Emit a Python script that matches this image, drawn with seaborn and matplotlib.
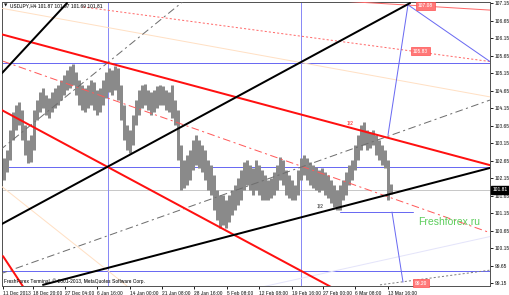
import matplotlib
matplotlib.use('Agg')
import matplotlib.pyplot as plt
import matplotlib.transforms as mtrans
from matplotlib import font_manager
import pandas as pd
import numpy as np
import seaborn as sns

# ---------------- data ----------------
symbol_header = "USDJPY,H4"
last_ohlc = [101.87, 101.97, 101.69, 101.81]
bid = 101.81

# price bars (one entry every 3 H4 bars): highs and lows
bar_high = [102.72, 102.95, 103.52, 104.04, 104.24, 104.32, 104.10, 103.67, 103.24, 103.38,
            104.10, 104.38, 104.61, 104.72, 104.52, 104.44, 104.61, 104.72, 104.81, 104.95,
            105.10, 105.24, 105.35, 105.41, 105.18, 104.95, 104.81, 104.72, 104.81, 104.95,
            104.90, 104.67, 104.72, 104.95, 105.18, 105.30, 105.24, 105.35, 105.30, 104.81,
            104.24, 103.67, 103.52, 103.95, 104.38, 104.67, 104.81, 104.84, 104.67, 104.61,
            104.67, 104.78, 104.81, 104.78, 104.67, 104.61, 104.81, 104.38, 104.10, 103.10,
            102.67, 102.81, 102.95, 103.24, 103.38, 103.24, 103.10, 102.95, 102.67, 102.52,
            102.24, 101.81, 101.67, 101.67, 101.52, 101.67, 101.81, 101.95, 102.15, 102.38,
            102.61, 102.67, 102.52, 102.44, 102.67, 102.52, 102.38, 102.24, 102.10, 102.15,
            102.33, 102.52, 102.75, 102.67, 102.38, 102.24, 102.10, 101.95, 102.38, 102.72,
            102.81, 102.72, 102.61, 102.52, 102.47, 102.38, 102.44, 102.33, 102.24, 102.10,
            101.95, 101.81, 101.95, 102.10, 102.33, 102.52, 102.67, 103.10, 103.38, 103.67,
            103.75, 103.52, 103.47, 103.52, 103.38, 103.24, 103.10, 102.95, 102.67, 101.97]
bar_low = [102.10, 102.33, 102.67, 103.24, 103.52, 103.67, 103.24, 102.81, 102.58, 102.61,
           102.95, 103.81, 104.04, 104.15, 103.95, 103.87, 104.04, 104.15, 104.24, 104.38,
           104.52, 104.67, 104.72, 104.81, 104.52, 104.24, 104.10, 104.04, 104.15, 104.24,
           104.10, 103.95, 104.04, 104.24, 104.44, 104.61, 104.52, 104.67, 104.38, 103.81,
           103.24, 102.95, 102.87, 103.10, 103.67, 103.95, 104.15, 104.24, 104.10, 103.95,
           104.04, 104.15, 104.24, 104.24, 104.10, 104.04, 103.87, 103.67, 102.67, 101.81,
           101.87, 101.95, 102.10, 102.38, 102.52, 102.44, 102.33, 102.10, 101.81, 101.67,
           101.24, 100.95, 100.73, 100.81, 100.73, 100.90, 101.10, 101.24, 101.38, 101.52,
           101.81, 101.95, 101.81, 101.67, 101.81, 101.67, 101.52, 101.52, 101.52, 101.58,
           101.67, 101.81, 102.10, 101.95, 101.67, 101.58, 101.52, 101.52, 101.67, 102.10,
           102.24, 102.10, 101.95, 101.87, 101.81, 101.75, 101.81, 101.67, 101.58, 101.44,
           101.33, 101.24, 101.24, 101.52, 101.67, 101.95, 102.10, 102.38, 102.67, 102.95,
           103.10, 102.95, 103.01, 103.10, 102.81, 102.67, 102.52, 102.44, 101.52, 101.69]
bars_per_entry = 3
first_bar = 1

time_tick_bar = [0, 30, 62, 94, 127, 159, 191, 224, 256, 289, 320, 352, 385]
time_tick_label = ['11 Dec 2013', '18 Dec 20:00', '27 Dec 04:00', '6 Jan 16:00', '14 Jan 00:00',
                   '21 Jan 08:00', '28 Jan 16:00', '5 Feb 08:00', '12 Feb 08:00', '19 Feb 16:00',
                   '27 Feb 00:00', '6 Mar 08:00', '13 Mar 16:00']
price_tick = [107.15, 106.65, 106.15, 105.65, 105.15, 104.65, 104.15, 103.65, 103.15,
              102.65, 102.15, 101.65, 101.15, 100.65, 100.15, 99.65, 99.15]

# drawn objects: anchor points (bar index, price)
black_channel_upper = [(-3, 100.81), (407, 107.15)]
black_steep = [(-1, 105.15), (64, 107.15)]
black_channel_lower = [(40, 99.10), (487, 102.44)]
red_upper = [(-3, 106.27), (487, 102.52)]
red_lower = [(-3, 104.12), (328, 99.04)]
red_short = [(0, 99.92), (21, 99.01)]
red_top = [(337, 107.21), (487, 106.95)]
red_dotted = [(80, 107.04), (487, 105.48)]
red_dashdot = [(0, 105.49), (487, 100.59)]
gray_dashdot_low = [(-3, 99.41), (487, 104.38)]
gray_dashdot_steep = [(-3, 102.95), (182, 107.24)]
peach_1 = [(-3, 107.01), (487, 104.47)]
peach_2 = [(-3, 101.95), (124, 99.07)]
lavender = [(232, 98.87), (487, 100.48)]
gray_dotted = [(377, 99.10), (487, 99.52)]
blue_fan_a = [(405, 107.10), (487, 105.48)]
blue_fan_b = [(405, 107.10), (385, 103.38)]
blue_step_h = [(337, 101.18), (410, 101.18)]
blue_step_d = [(389, 101.18), (400, 99.18)]
blue_hlines = [105.44, 102.47, 99.49]
blue_vlines = [105, 298]
target_text = ['107.08', '105.83', '99.20']
target_at = [(415, 107.07), (410, 105.78), (412, 99.15)]
half_text = ['1/2', '1/2']
half_at = [(314, 101.35), (344, 103.72)]
watermark = 'Freshforex.ru'
watermark_at = (415, 100.90)
footer = 'FreshForex Terminal, \u00a9 2001-2013, MetaQuotes Software Corp.'

# ---------------- style ----------------
sns.set_theme(style='white')
ttfs = font_manager.fontManager.ttflist
narrow = [f.fname for f in ttfs if 'Narrow' in f.name and f.style == 'normal' and f.weight in (400, 'normal')]
if narrow:
    small_fp = font_manager.FontProperties(fname=narrow[0], size=4.3)
else:
    lib = [f.fname for f in ttfs if f.name == 'Liberation Sans' and f.style == 'normal'
           and f.weight in (400, 'normal')]
    small_fp = (font_manager.FontProperties(fname=lib[0], size=3.7) if lib
                else font_manager.FontProperties(family='DejaVu Sans', size=3.4))
plt.rcParams['font.family'] = ['Liberation Sans', 'DejaVu Sans']
plt.rcParams['lines.scale_dashes'] = False

W, H = 510, 295
fig = plt.figure(figsize=(W / 100, H / 100), dpi=100)
fig.patch.set_facecolor('white')
ax = fig.add_axes([2 / W, 1 - 286 / H, 488 / W, 284 / H])
ax.set_facecolor('white')
ax.set_xlim(-1, 487)
ax.set_ylim(99.067, 107.181)

PX = 0.72  # one pixel in points


def seg(points, color, lw=1.0, ls='-', z=3):
    df = pd.DataFrame(points, columns=['bar', 'price'])
    sns.lineplot(data=df, x='bar', y='price', ax=ax, color=color, linewidth=lw * PX,
                 linestyle=ls, sort=False, zorder=z, estimator=None)


DOT = (0, (1.5, 1.5))
DASHDOT = (0, (5.5, 2.5, 1.5, 2.5))

# faint lines
seg(peach_1, '#ffe0c4', 1)
seg(peach_2, '#ffe0c4', 1)
seg(lavender, '#e4e4fa', 1)

# blue grid
for v in blue_hlines:
    ax.axhline(v, color='#6a6af2', lw=PX, zorder=2)
for v in blue_vlines:
    ax.axvline(v, color='#8a8af6', lw=PX, zorder=2)
ax.axhline(bid, color='#c8c8c8', lw=PX, zorder=1.5)

# price bars
bx = first_bar + bars_per_entry * np.arange(len(bar_high))
ax.vlines(bx, bar_low, bar_high, color='#8a8a8a', lw=3.0 * PX, zorder=2.5)

# dotted / dash-dot
seg(red_dotted, '#ff6a6a', 1, DOT)
seg(red_dashdot, '#ff5a5a', 1, DASHDOT)
seg(gray_dashdot_low, '#6e6e6e', 1, DASHDOT)
seg(gray_dashdot_steep, '#6e6e6e', 1, DASHDOT)
seg(gray_dotted, '#808080', 1, DOT)
seg(red_top, '#ff6a6a', 1)

# blue fan lines
for pts in (blue_fan_a, blue_fan_b, blue_step_h, blue_step_d):
    seg(pts, '#6a6af2', 1)

# thick lines
seg(red_upper, '#ff1010', 2)
seg(red_lower, '#ff1010', 2)
seg(red_short, '#ff1010', 2)
seg(black_channel_upper, '#000000', 2)
seg(black_steep, '#000000', 2)
seg(black_channel_lower, '#000000', 2)

# labels
for t, (x, y) in zip(target_text, target_at):
    ax.text(x, y, t, fontproperties=small_fp, color='white', ha='left', va='center', zorder=6,
            bbox=dict(boxstyle='square,pad=0.3', fc='#ff7878', ec='#ff5050', lw=0.5))
ax.text(half_at[0][0], half_at[0][1], half_text[0], fontproperties=small_fp, color='#333333',
        ha='left', va='center', zorder=6)
ax.text(half_at[1][0], half_at[1][1], half_text[1], fontproperties=small_fp, color='#ff2020',
        ha='left', va='center', zorder=6)
ax.text(watermark_at[0], watermark_at[1], watermark, fontsize=7.5, color='#5ccd5c',
        family='Liberation Sans', ha='left', va='center', zorder=6)

# axes
for s in ax.spines.values():
    s.set_color('#555555')
    s.set_linewidth(PX)
ax.set_xlabel('')
ax.set_ylabel('')
ax.yaxis.tick_right()
ax.set_yticks(price_tick)
ax.set_yticklabels([f'{p:.2f}' for p in price_tick])
ax.set_xticks(time_tick_bar)
ax.set_xticklabels(time_tick_label)
for lab in ax.get_xticklabels():
    lab.set_horizontalalignment('left')
    lab.set_fontproperties(small_fp)
for lab in ax.get_yticklabels():
    lab.set_fontproperties(small_fp)
ax.tick_params(axis='both', colors='#222222', length=2.5, width=PX, pad=1.0,
               direction='out')
ax.tick_params(axis='x', bottom=True)
ax.tick_params(axis='y', right=True, left=False)

trans = mtrans.blended_transform_factory(ax.transAxes, ax.transData)
ax.text(1.005, bid, f'{bid:.2f}', transform=trans, fontproperties=small_fp, color='white',
        ha='left', va='center', zorder=7, clip_on=False,
        bbox=dict(boxstyle='square,pad=0.2', fc='black', ec='black'))

header = symbol_header + ' ' + ' '.join(f'{v:.2f}' for v in last_ohlc)
fig.text(4 / W, 1 - 5.5 / H, '\u25bc', fontsize=3.2, color='#111111', ha='left', va='center',
         family='DejaVu Sans')
fig.text(10 / W, 1 - 5.5 / H, header, fontproperties=small_fp, color='#111111', ha='left',
         va='center')
fig.text(4 / W, 1 - 281 / H, footer, fontproperties=small_fp, color='#111111', ha='left',
         va='center')

fig.savefig('out.png', dpi=100, facecolor='white')
